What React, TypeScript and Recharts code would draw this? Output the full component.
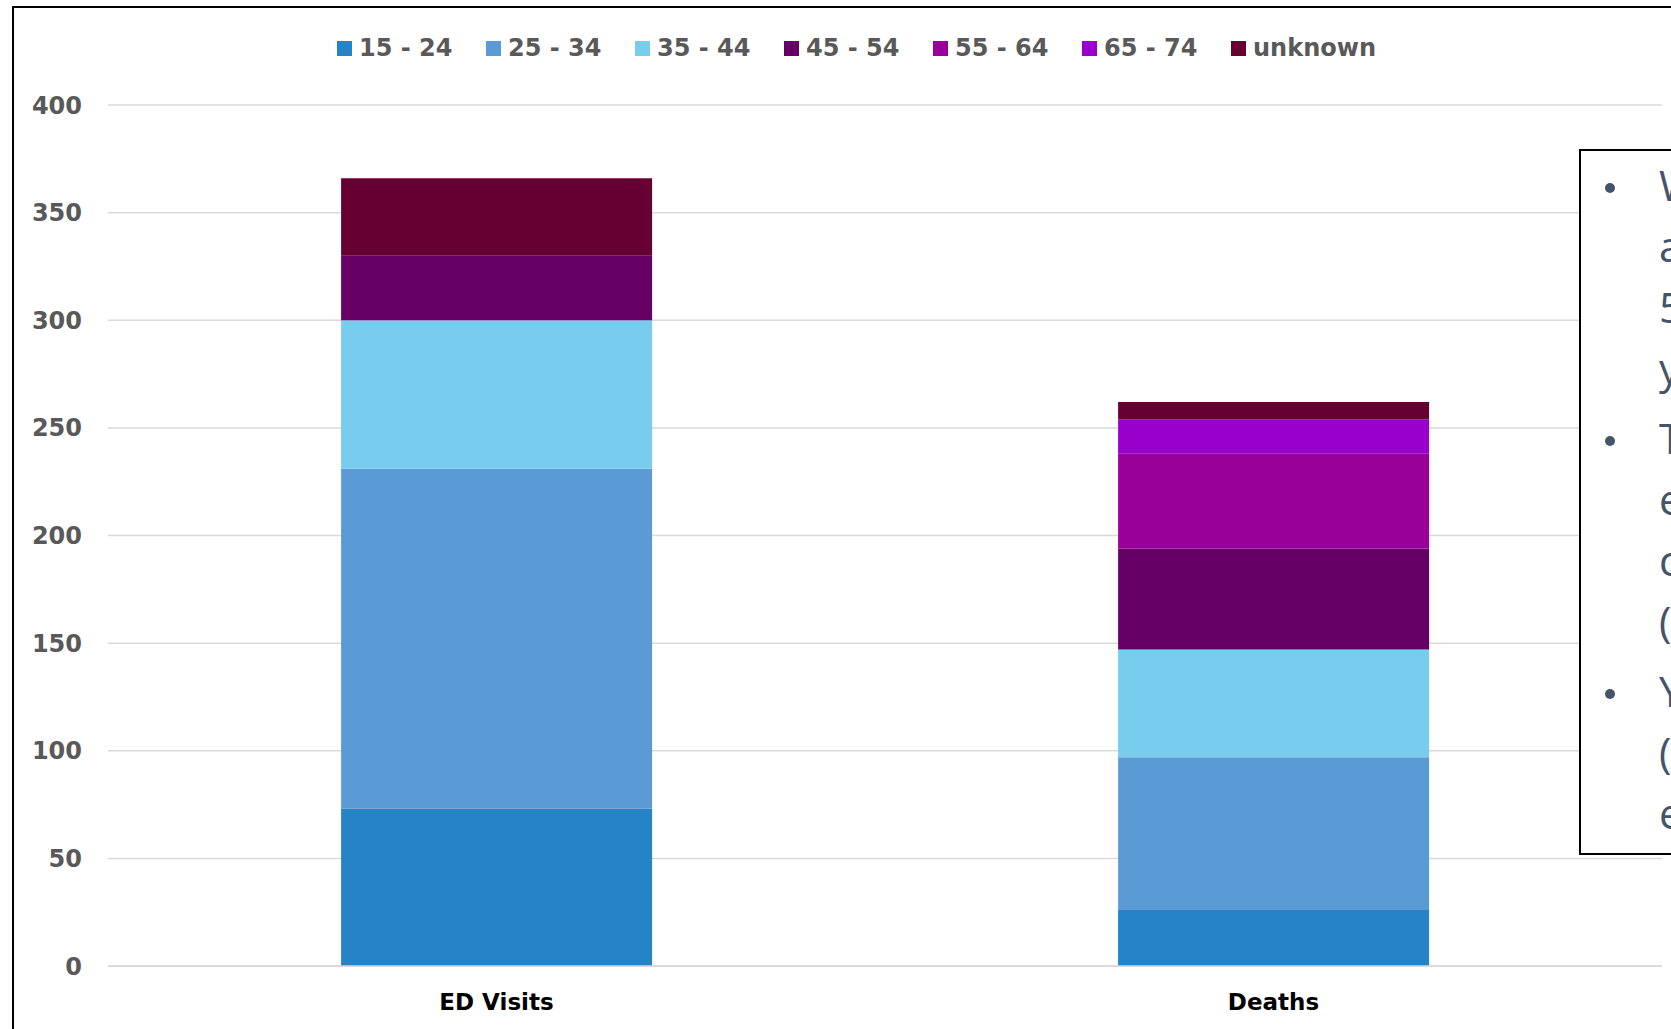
import { Bar, BarChart, CartesianGrid, Legend, XAxis, YAxis } from "recharts";

const categories = ["ED Visits", "Deaths"];
const ageGroups = ["15 - 24", "25 - 34", "35 - 44", "45 - 54", "55 - 64", "65 - 74", "unknown"];
const edVisits = [73, 158, 69, 30, 0, 0, 36];
const deaths = [26, 71, 50, 47, 44, 16, 8];
const groupColors = ["#2683C6", "#5B9BD5", "#78CDEF", "#660066", "#990099", "#9900CC", "#660033"];
const yTicks = [0, 50, 100, 150, 200, 250, 300, 350, 400];

// side note box, only the start of each line fits on the page
const noteLines = [
  ["W", "a", "5", "y"],
  ["T", "e", "c", "("],
  ["Y", "(", "e"],
];

const series = [edVisits, deaths];
const rows = categories.map((name, i) => {
  const row: Record<string, string | number> = { name };
  ageGroups.forEach((_, j) => {
    row["g" + j] = series[i][j];
  });
  return row;
});

const FONT = "'DejaVu Sans', sans-serif";

function AgeLegend() {
  return (
    <div style={{ display: "flex", paddingLeft: 337, fontFamily: FONT, height: 26 }}>
      {ageGroups.map((g, i) => (
        <div key={g} style={{ width: 149, display: "flex", alignItems: "center" }}>
          <span style={{ width: 15, height: 15, background: groupColors[i], marginRight: 7 }} />
          <span style={{ fontSize: 24, fontWeight: "bold", color: "#595959", lineHeight: "26px" }}>{g}</span>
        </div>
      ))}
    </div>
  );
}

function NoteBox() {
  let y = 0;
  const items: JSX.Element[] = [];
  noteLines.forEach((lines, p) => {
    items.push(
      <div key={"b" + p} style={{ position: "absolute", left: 24, top: y + 32, width: 10, height: 10, borderRadius: 5, background: "#44546A" }} />
    );
    lines.forEach((t, k) => {
      items.push(
        <div key={p + "-" + k} style={{ position: "absolute", left: 78, top: y + k * 61 + 8, fontSize: 42, lineHeight: "52px", color: "#44546A", fontFamily: "'Open Sans', sans-serif" }}>
          {t}
        </div>
      );
    });
    y += lines.length * 61 + 9;
  });
  return (
    <div style={{ position: "absolute", left: 1579, top: 149, width: 300, height: 702, border: "2px solid #000", background: "#fff" }}>
      {items}
    </div>
  );
}

export default function App() {
  return (
    <div style={{ position: "absolute", left: 0, top: 0, width: 1671, height: 1029, overflow: "hidden", background: "#fff" }}>
      <div style={{ position: "absolute", left: 12, top: 6, width: 2000, height: 1200, borderLeft: "2px solid #000", borderTop: "2px solid #000" }} />
      <div style={{ position: "absolute", left: 0, top: 0 }}>
        <BarChart width={1671} height={1029} data={rows} margin={{ top: 79, right: 9, left: 0, bottom: 0 }} barCategoryGap="30%">
          <CartesianGrid vertical={false} stroke="#D9D9D9" strokeWidth={1.5} />
          <XAxis
            dataKey="name"
            height={63}
            axisLine={{ stroke: "#D9D9D9", strokeWidth: 1.5 }}
            tickLine={false}
            tickSize={0}
            tickMargin={28}
            tick={{ fill: "#000", fontSize: 23, fontWeight: "bold", fontFamily: FONT }}
          />
          <YAxis
            width={108}
            domain={[0, 400]}
            ticks={yTicks}
            axisLine={false}
            tickLine={false}
            tickSize={6}
            tickMargin={20}
            tick={{ fill: "#595959", fontSize: 24, fontWeight: "bold", fontFamily: FONT }}
          />
          <Legend verticalAlign="top" content={<AgeLegend />} wrapperStyle={{ top: 35, left: 0, width: 1671 }} />
          {ageGroups.map((g, j) => (
            <Bar key={g} dataKey={"g" + j} name={g} stackId="age" fill={groupColors[j]} isAnimationActive={false} />
          ))}
        </BarChart>
      </div>
      <NoteBox />
    </div>
  );
}
